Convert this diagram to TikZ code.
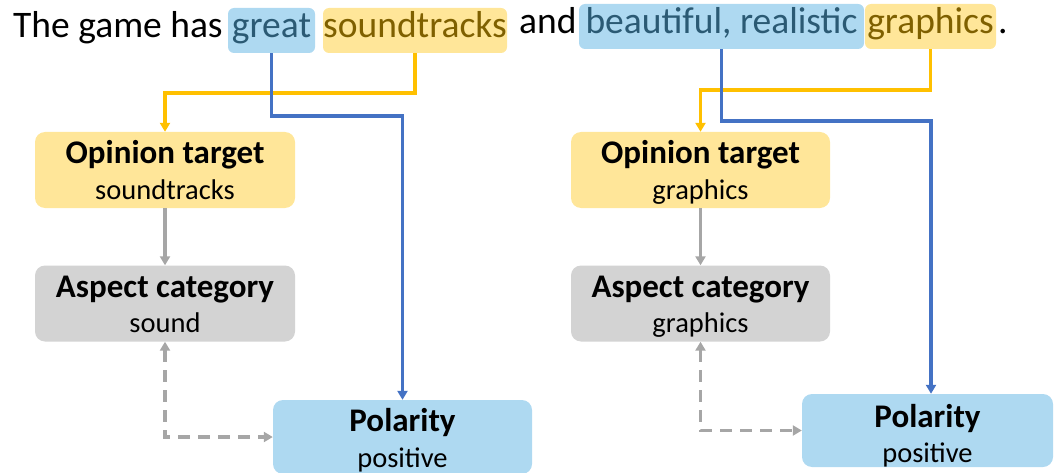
\documentclass[tikz,border=0pt]{standalone}
\usepackage{fontspec}
\setmainfont{Carlito}
\usetikzlibrary{arrows.meta}
\definecolor{hlblue}{HTML}{AED9F1}
\definecolor{hlyel}{HTML}{FFE699}
\definecolor{boxgray}{HTML}{D3D3D3}
\definecolor{lnyel}{HTML}{FFC000}
\definecolor{lnblue}{HTML}{4472C4}
\definecolor{lngray}{HTML}{A6A6A6}
\definecolor{txblue}{HTML}{2B5A74}
\definecolor{txyel}{HTML}{7F6000}
\begin{document}
\begin{tikzpicture}[x=1pt,y=-1pt,
  sent/.style={font=\fontsize{37.5}{42}\selectfont, inner sep=0pt},
  hl/.style={sent, rounded corners=6pt, text height=30pt, text depth=15pt, anchor=base},
  card/.style={rounded corners=10pt, minimum width=260pt, minimum height=76pt, inner sep=0pt},
  ttl/.style={font=\bfseries\fontsize{33}{37}\selectfont, anchor=base, inner sep=0pt},
  sub/.style={font=\fontsize{28.5}{32}\selectfont, anchor=base, inner sep=0pt},
  conn/.style={line width=3.4pt, -{Triangle[length=9pt,width=10pt]}},
  dconn/.style={line width=3.4pt, lngray, dash pattern=on 12pt off 8pt,
    {Triangle[length=9pt,width=10pt]}-{Triangle[length=9pt,width=10pt]}},
]
\useasboundingbox (0,0) rectangle (1056,473);

% sentence
\node[sent, anchor=base west] (t1) at (13,38) {The game has};
\node[hl, fill=hlblue, text=txblue, minimum width=87pt] (gr) at (271.5,38) {great};
\node[hl, fill=hlyel, text=txyel, minimum width=184pt] (st) at (415,38) {soundtracks};
\node[sent, anchor=base west] (t2) at (519,34) {and};
\node[hl, fill=hlblue, text=txblue, minimum width=285pt] (bt) at (721.5,34) {beautiful, realistic};
\node[hl, fill=hlyel, text=txyel, minimum width=131pt] (gp) at (930.5,34) {graphics};
\node[sent, anchor=base west] (t3) at (998,34) {.};

% left column
\node[card, fill=hlyel] (ot1) at (165,170) {};
\node[ttl] (ot1a) at (165,164) {Opinion target};
\node[sub] (ot1b) at (165,199) {soundtracks};
\node[card, fill=boxgray] (ac1) at (165,303.5) {};
\node[ttl] (ac1a) at (165,297) {Aspect category};
\node[sub] (ac1b) at (165,332) {sound};
\node[card, fill=hlblue, minimum width=259pt, minimum height=74pt] (po1) at (402.5,437) {};
\node[ttl] (po1a) at (402.5,431) {Polarity};
\node[sub] (po1b) at (402.5,467) {positive};

% right column
\node[card, fill=hlyel, minimum width=259pt] (ot2) at (700.5,170) {};
\node[ttl] (ot2a) at (700.5,164) {Opinion target};
\node[sub] (ot2b) at (700.5,199) {graphics};
\node[card, fill=boxgray, minimum width=259pt] (ac2) at (700.5,303.5) {};
\node[ttl] (ac2a) at (700.5,297) {Aspect category};
\node[sub] (ac2b) at (700.5,332) {graphics};
\node[card, fill=hlblue, minimum width=251pt, minimum height=73pt] (po2) at (927.5,430.5) {};
\node[ttl] (po2a) at (927.5,427) {Polarity};
\node[sub] (po2b) at (927.5,462) {positive};

% connectors left
\draw[conn, lnyel] (st.south) -- ++(0,40) -| (ot1.north);
\draw[conn, lnblue] (gr.south) -- ++(0,63) -| (po1.north);
\draw[conn, lngray] (ot1.south) -- (ac1.north);
\draw[dconn] (ac1.south) |- (po1.west);

% connectors right
\draw[conn, lnyel] (gp.south) -- ++(0,41) -| (ot2.north);
\draw[conn, lnblue] (bt.south) -- ++(0,72) -| ([xshift=3.5pt]po2.north);
\draw[conn, lngray] (ot2.south) -- (ac2.north);
\draw[dconn] (ac2.south) |- (po2.west);
\end{tikzpicture}
\end{document}
